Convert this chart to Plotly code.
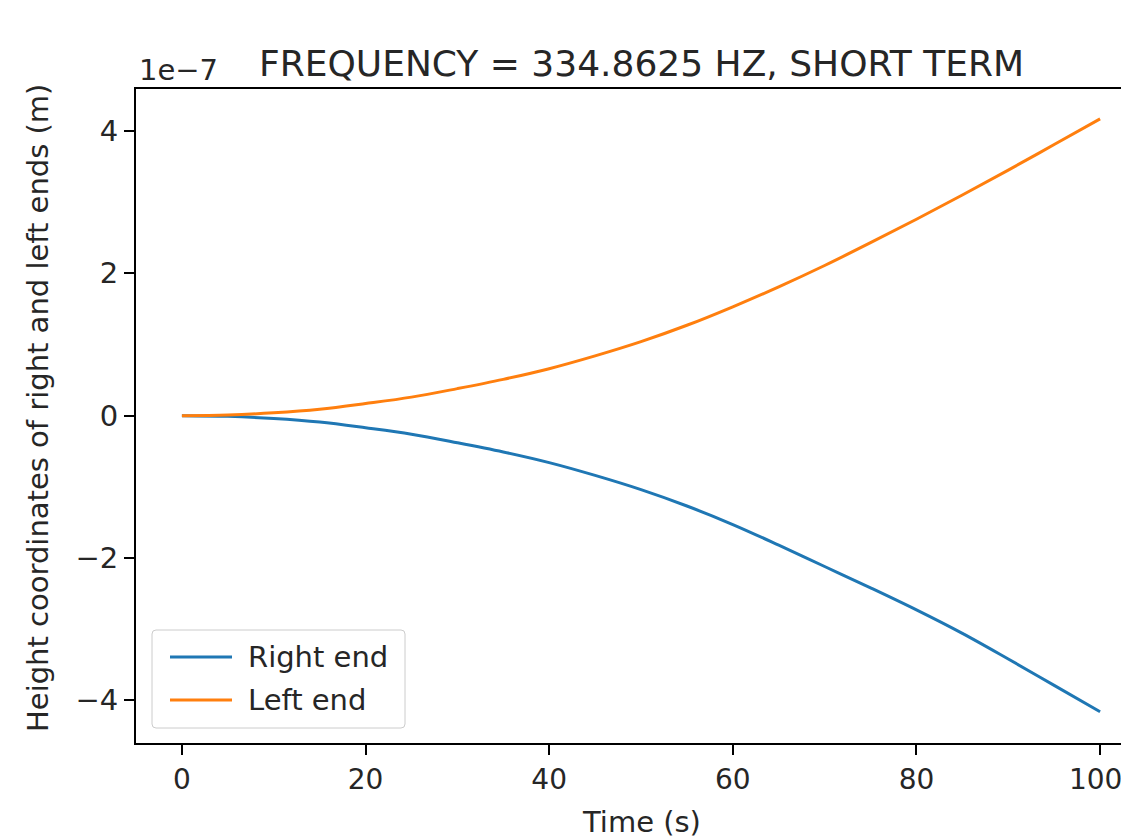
import plotly.graph_objects as go

# Time samples (s)
time_s = [0, 5, 10, 15, 20, 25, 30, 35, 40, 45, 50,
          55, 60, 65, 70, 75, 80, 85, 90, 95, 100]

# Height of the two ends, in units of 1e-7 m
right_end = [0.0, -0.01, -0.04, -0.09, -0.17, -0.26, -0.38, -0.51, -0.66, -0.84, -1.04,
             -1.27, -1.53, -1.82, -2.12, -2.42, -2.73, -3.06, -3.42, -3.79, -4.16]
left_end = [0.0, 0.01, 0.04, 0.09, 0.17, 0.26, 0.38, 0.51, 0.66, 0.84, 1.04,
            1.27, 1.53, 1.81, 2.11, 2.43, 2.76, 3.10, 3.45, 3.81, 4.17]

series_names = ["Right end", "Left end"]

SCALE = 1e-7
x_ticks = [0, 20, 40, 60, 80, 100]
# last label padded so it stays inside the page edge
x_tick_text = ["0", "20", "40", "60", "80", "100\u00a0"]
y_ticks = [-4, -2, 0, 2, 4]
y_tick_text = ["\u22124", "\u22122", "0", "2", "4"]

FONT = "DejaVu Sans"
TEXT = "#262626"
BLUE = "#1f77b4"
ORANGE = "#ff7f0e"
colors = [BLUE, ORANGE]

fig = go.Figure()
for name, vals, col in zip(series_names, [right_end, left_end], colors):
    fig.add_trace(go.Scatter(x=time_s, y=[v * SCALE for v in vals], mode="lines",
                             name=name, showlegend=False,
                             line=dict(color=col, width=3, shape="spline", smoothing=1.0)))

# The axes box runs a little past the visible page width; the page crops it.
VIEW_W = 1121
W, H = 1170, 839
L, T, B, R = 136, 89, 96, 24
plot_w = W - L - R
plot_h = H - T - B


def px_x(px):
    """Pixel column -> paper x."""
    return (px - L) / plot_w


def px_y(py):
    """Pixel row -> paper y."""
    return (H - B - py) / plot_h


axis_common = dict(
    showline=True, linecolor="black", linewidth=2, mirror=True,
    ticks="outside", ticklen=10, tickwidth=2, tickcolor="black",
    showgrid=False, zeroline=False,
)

fig.update_layout(
    width=W, height=H,
    margin=dict(l=L, r=R, t=T, b=B, pad=0),
    paper_bgcolor="white", plot_bgcolor="white",
    font=dict(family=FONT, size=29, color=TEXT),
    xaxis=dict(range=[-5, 105], tickvals=x_ticks, ticktext=x_tick_text,
               tickfont=dict(family=FONT, size=28, color=TEXT), **axis_common),
    yaxis=dict(range=[-4.6 * SCALE, 4.59 * SCALE],
               tickvals=[v * SCALE for v in y_ticks], ticktext=y_tick_text,
               tickfont=dict(family=FONT, size=29, color=TEXT), **axis_common),
    showlegend=False,
)

# Legend box (rounded frame) with line samples and labels
bx0, bx1, by0, by1, rad = px_x(152), px_x(405), px_y(728), px_y(630), 4
rx, ry = rad / plot_w, rad / plot_h
frame = (f"M {bx0 + rx},{by0} L {bx1 - rx},{by0} Q {bx1},{by0} {bx1},{by0 + ry} "
         f"L {bx1},{by1 - ry} Q {bx1},{by1} {bx1 - rx},{by1} "
         f"L {bx0 + rx},{by1} Q {bx0},{by1} {bx0},{by1 - ry} "
         f"L {bx0},{by0 + ry} Q {bx0},{by0} {bx0 + rx},{by0} Z")
shapes = [dict(type="path", xref="paper", yref="paper", path=frame,
               fillcolor="rgba(255,255,255,0.8)", line=dict(color="#cccccc", width=1))]
annotations = []
for i, (name, col) in enumerate(zip(series_names, colors)):
    row_y = px_y(657 + 43 * i)
    shapes.append(dict(type="line", xref="paper", yref="paper",
                       x0=px_x(170), x1=px_x(232), y0=row_y, y1=row_y,
                       line=dict(color=col, width=3)))
    annotations.append(dict(text=name, xref="paper", yref="paper",
                            x=px_x(246), y=row_y, xanchor="left", yanchor="middle",
                            showarrow=False, font=dict(family=FONT, size=29, color=TEXT)))

annotations += [
    dict(text="FREQUENCY = 334.8625 HZ, SHORT TERM", xref="paper", yref="paper",
         x=0.5, y=px_y(63), xanchor="center", yanchor="middle",
         showarrow=False, font=dict(family=FONT, size=36, color=TEXT)),
    dict(text="1e\u22127", xref="paper", yref="paper",
         x=px_x(137), y=px_y(70), xanchor="left", yanchor="middle",
         showarrow=False, font=dict(family=FONT, size=29, color=TEXT)),
    dict(text="Height coordinates of right and left ends (m)", xref="paper", yref="paper",
         x=px_x(38), y=px_y(408), xanchor="center", yanchor="middle", textangle=-90,
         showarrow=False, font=dict(family=FONT, size=29, color=TEXT)),
    dict(text="Time (s)", xref="paper", yref="paper",
         x=0.5, y=px_y(822), xanchor="center", yanchor="middle",
         showarrow=False, font=dict(family=FONT, size=29, color=TEXT)),
]
fig.update_layout(shapes=shapes, annotations=annotations)

# Crop the figure to the page width so the right end of the axes box is cut off
crop_js = (
    "document.documentElement.style.overflow='hidden';"
    "document.body.style.overflow='hidden';"
    "document.body.style.margin='0';"
    "var gd=document.getElementById('{plot_id}');"
    f"gd.style.width='{VIEW_W}px';gd.style.overflow='hidden';"
    "if(gd.parentElement){gd.parentElement.style.width='%dpx';gd.parentElement.style.overflow='hidden';}"
    % VIEW_W
)

fig.write_html("out.html", post_script=crop_js)
